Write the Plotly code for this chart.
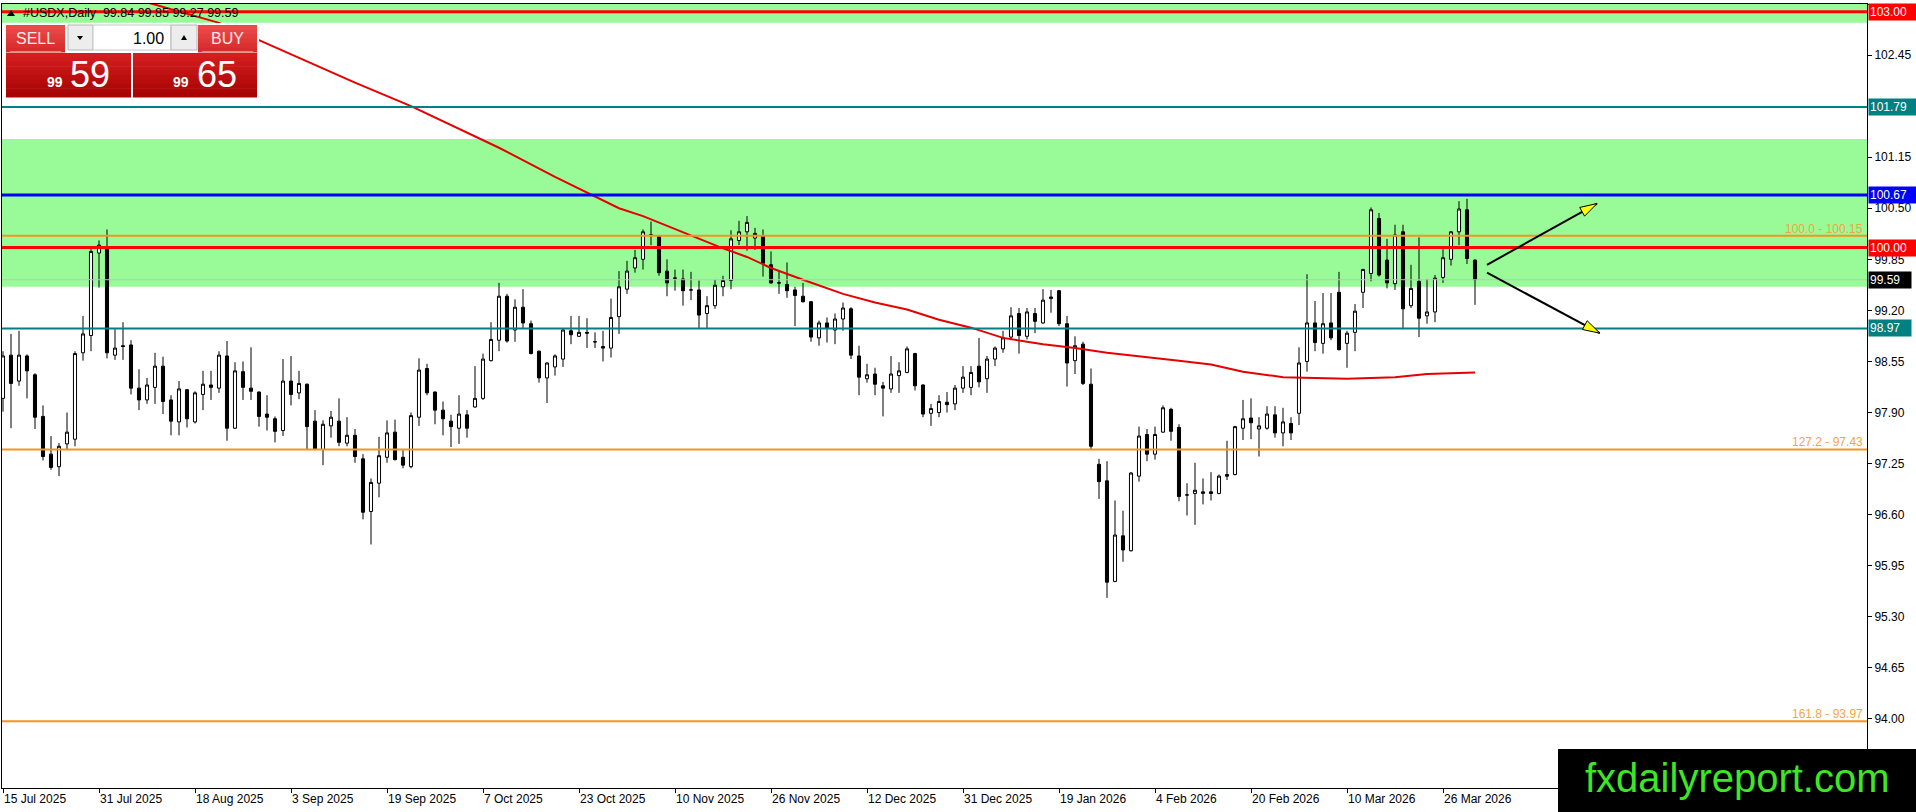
import plotly.graph_objects as go

# ---------------- data ----------------
date_labels = ["15 Jul 2025", "31 Jul 2025", "18 Aug 2025", "3 Sep 2025", "19 Sep 2025",
               "7 Oct 2025", "23 Oct 2025", "10 Nov 2025", "26 Nov 2025", "12 Dec 2025",
               "31 Dec 2025", "19 Jan 2026", "4 Feb 2026", "20 Feb 2026", "10 Mar 2026",
               "26 Mar 2026"]
bars_per_label = 12

price_ticks = [94.00, 94.65, 95.30, 95.95, 96.60, 97.25, 97.90, 98.55, 99.20, 99.85,
               100.50, 101.15, 102.45, 103.10]

opens = [98.08, 98.63, 98.30, 98.62, 98.38, 97.85, 97.37, 97.21, 97.50, 97.56,
         98.66, 98.88, 99.93, 100.00, 98.63, 98.75, 98.76, 98.21, 98.06, 98.22,
         98.49, 98.06, 97.78, 98.19, 97.78, 98.13, 98.25, 98.21, 98.62, 97.70,
         98.42, 98.21, 98.16, 97.88, 97.82, 97.67, 98.30, 98.15, 98.26, 97.79,
         97.43, 97.73, 97.79, 97.51, 97.61, 97.31, 96.64, 97.00, 97.33, 97.65,
         97.33, 97.21, 97.84, 98.46, 98.16, 97.93, 97.79, 97.70, 97.87, 97.97,
         98.08, 98.56, 98.82, 99.38, 98.95, 99.24, 99.03, 98.68, 98.34, 98.48,
         98.58, 98.94, 98.87, 98.92, 98.80, 98.74, 98.72, 99.12, 99.47, 99.74,
         99.85, 100.16, 100.14, 99.70, 99.61, 99.60, 99.46, 99.46, 99.16, 99.26,
         99.50, 99.58, 100.09, 100.20, 100.12, 100.15, 99.78, 99.55, 99.53, 99.46,
         99.38, 99.31, 98.85, 99.04, 98.95, 99.09, 99.22, 98.62, 98.33, 98.39,
         98.24, 98.20, 98.37, 98.41, 98.65, 98.25, 97.89, 97.90, 98.03, 98.01,
         98.21, 98.22, 98.49, 98.33, 98.58, 98.71, 98.86, 99.16, 98.87, 99.16,
         99.04, 99.35, 99.45, 99.03, 98.56, 98.77, 98.26, 97.24, 97.03, 95.75,
         96.33, 96.14, 97.09, 97.62, 97.37, 97.65, 97.94, 97.71, 96.85, 96.87,
         96.87, 96.89, 96.87, 97.11, 97.11, 97.70, 97.83, 97.69, 97.70, 97.87,
         97.64, 97.76, 97.89, 98.55, 99.04, 98.78, 99.04, 99.43, 98.78, 98.92,
         99.43, 99.67, 100.37, 99.84, 99.54, 100.20, 99.26, 99.57, 99.13, 99.18,
         99.62, 99.85, 100.20, 100.48, 99.84]

highs = [98.68, 98.90, 98.94, 98.64, 98.40, 97.99, 97.60, 97.51, 97.90, 98.68,
         99.13, 99.98, 100.09, 100.23, 98.96, 99.05, 98.82, 98.45, 98.34, 98.66,
         98.61, 98.12, 98.30, 98.20, 98.17, 98.43, 98.43, 98.68, 98.81, 98.54,
         98.55, 98.73, 98.17, 98.12, 97.85, 98.58, 98.62, 98.43, 98.27, 97.93,
         97.80, 97.92, 98.08, 97.84, 97.69, 97.37, 97.06, 97.59, 97.80, 97.81,
         97.42, 97.90, 98.59, 98.52, 98.17, 98.04, 97.87, 98.12, 97.93, 98.49,
         98.65, 99.05, 99.55, 99.41, 99.34, 99.47, 99.07, 98.69, 98.54, 98.64,
         98.97, 99.13, 99.13, 99.10, 98.92, 98.94, 99.35, 99.70, 99.83, 99.97,
         100.23, 100.33, 100.16, 99.85, 99.72, 99.72, 99.69, 99.58, 99.38, 99.59,
         99.64, 100.22, 100.34, 100.40, 100.25, 100.23, 99.95, 99.70, 99.81, 99.50,
         99.55, 99.32, 99.07, 99.11, 99.16, 99.30, 99.24, 98.75, 98.52, 98.47,
         98.29, 98.62, 98.54, 98.74, 98.66, 98.26, 98.01, 98.12, 98.16, 98.25,
         98.49, 98.49, 98.85, 98.62, 98.74, 98.94, 99.24, 99.23, 99.23, 99.23,
         99.47, 99.46, 99.46, 99.13, 98.87, 98.80, 98.46, 97.31, 97.28, 96.78,
         96.65, 97.14, 97.72, 97.69, 97.72, 97.99, 97.96, 97.75, 97.00, 97.26,
         97.06, 97.14, 97.11, 97.54, 97.73, 98.06, 98.08, 97.84, 97.98, 97.98,
         97.96, 97.84, 98.73, 99.66, 99.32, 99.42, 99.42, 99.69, 98.94, 99.28,
         99.73, 100.51, 100.44, 100.11, 100.29, 100.29, 99.78, 100.13, 99.60, 99.65,
         99.98, 100.21, 100.59, 100.62, 99.85]

lows = [97.91, 97.70, 98.24, 98.08, 97.69, 97.29, 97.17, 97.09, 97.42, 97.47,
        98.56, 98.68, 99.49, 98.59, 98.57, 98.57, 98.13, 97.93, 98.01, 98.01,
        97.88, 97.61, 97.61, 97.71, 97.76, 97.93, 98.06, 98.15, 97.54, 97.69,
        98.06, 98.06, 97.72, 97.67, 97.52, 97.60, 97.99, 98.07, 97.42, 97.42,
        97.23, 97.58, 97.47, 97.47, 97.26, 96.54, 96.22, 96.82, 97.26, 97.29,
        97.19, 97.19, 97.73, 98.12, 97.75, 97.61, 97.46, 97.50, 97.58, 97.96,
        98.06, 98.55, 98.68, 98.79, 98.80, 98.97, 98.64, 98.28, 98.02, 98.37,
        98.48, 98.77, 98.86, 98.72, 98.72, 98.55, 98.60, 98.90, 99.41, 99.68,
        99.72, 100.03, 99.64, 99.38, 99.45, 99.26, 99.33, 98.97, 98.97, 99.22,
        99.38, 99.47, 100.03, 99.96, 99.97, 99.63, 99.54, 99.41, 99.36, 99.00,
        99.30, 98.80, 98.75, 98.79, 98.77, 98.94, 98.58, 98.12, 98.28, 98.12,
        97.85, 98.15, 98.15, 98.40, 98.18, 97.84, 97.73, 97.84, 97.90, 97.93,
        98.15, 98.12, 98.22, 98.15, 98.49, 98.66, 98.82, 98.65, 98.83, 98.91,
        99.03, 99.17, 99.00, 98.23, 98.39, 98.25, 97.42, 96.80, 95.54, 95.74,
        96.00, 96.13, 97.02, 97.28, 97.30, 97.64, 97.54, 96.77, 96.59, 96.47,
        96.73, 96.78, 96.86, 97.04, 97.10, 97.55, 97.56, 97.34, 97.68, 97.58,
        97.47, 97.55, 97.74, 98.42, 98.68, 98.65, 98.82, 98.69, 98.47, 98.68,
        99.23, 99.57, 99.63, 99.48, 99.46, 98.96, 99.23, 98.86, 99.03, 99.05,
        99.55, 99.77, 100.03, 99.79, 99.27]

closes = [98.62, 98.27, 98.63, 98.43, 97.84, 97.34, 97.20, 97.47, 97.65, 98.65,
          98.90, 99.95, 100.03, 98.66, 98.72, 98.74, 98.21, 98.06, 98.25, 98.49,
          98.04, 97.79, 98.20, 97.82, 98.15, 98.26, 98.22, 98.63, 97.70, 98.43,
          98.22, 98.17, 97.85, 97.84, 97.66, 98.30, 98.13, 98.27, 97.72, 97.43,
          97.75, 97.84, 97.52, 97.61, 97.34, 96.63, 97.01, 97.35, 97.64, 97.30,
          97.23, 97.86, 98.44, 98.15, 97.93, 97.82, 97.72, 97.88, 97.70, 98.08,
          98.58, 98.83, 99.38, 98.81, 99.24, 99.04, 98.65, 98.34, 98.53, 98.62,
          98.95, 98.89, 98.92, 98.91, 98.80, 98.72, 99.11, 99.50, 99.70, 99.87,
          100.20, 100.16, 99.68, 99.55, 99.61, 99.45, 99.46, 99.14, 99.26, 99.52,
          99.58, 100.11, 100.20, 100.32, 100.18, 99.80, 99.55, 99.55, 99.45, 99.39,
          99.31, 98.86, 99.04, 98.97, 99.09, 99.23, 98.63, 98.35, 98.38, 98.26,
          98.21, 98.39, 98.43, 98.71, 98.24, 97.88, 97.95, 98.04, 98.00, 98.21,
          98.35, 98.41, 98.29, 98.58, 98.72, 98.85, 99.13, 98.88, 99.18, 99.06,
          99.33, 99.37, 99.03, 98.53, 98.75, 98.27, 97.47, 97.02, 95.74, 96.34,
          96.15, 97.13, 97.60, 97.37, 97.62, 97.96, 97.66, 96.83, 96.85, 96.91,
          96.89, 96.87, 97.09, 97.09, 97.72, 97.82, 97.77, 97.73, 97.88, 97.64,
          97.78, 97.64, 98.53, 99.04, 98.79, 99.03, 98.85, 98.70, 98.91, 99.19,
          99.72, 100.48, 99.65, 99.55, 100.16, 99.22, 99.48, 99.10, 99.18, 99.61,
          99.87, 100.20, 100.49, 99.86, 99.59]

# moving average (bar index -> value)
ma_bars = [17, 27, 32, 38, 44, 51, 59, 62, 69, 73, 77, 80, 85, 90, 93, 96, 100, 105,
           109, 113, 117, 121, 125, 130, 134, 138, 147, 151, 155, 160, 164, 168, 174,
           178, 184]
ma_values = [103.15, 102.86, 102.64, 102.37, 102.10, 101.80, 101.41, 101.27, 100.90,
             100.70, 100.50, 100.40, 100.19, 99.99, 99.88, 99.74, 99.59, 99.41, 99.30,
             99.21, 99.08, 98.98, 98.85, 98.77, 98.72, 98.66, 98.56, 98.51, 98.42,
             98.35, 98.34, 98.33, 98.35, 98.39, 98.41]

zone_low = [102.86, 99.50]
zone_high = [103.10, 101.38]

level_prices = [103.00, 101.79, 100.67, 100.00, 98.97]
level_colors = ["#ff0000", "#008080", "#0000ff", "#ff0000", "#008080"]
level_widths = [3, 2, 3, 3, 2]

fib_prices = [100.15, 97.43, 93.97]
fib_texts = ["100.0 - 100.15", "127.2 - 97.43", "161.8 - 93.97"]

bid_price = 99.59
ask_price = 99.65

arrow_x0 = [185.5, 185.5]
arrow_y0 = [99.78, 99.68]
arrow_x1 = [199.25, 199.6]
arrow_y1 = [100.56, 98.91]

# ---------------- geometry ----------------
W, H = 1916, 812
PL, PR, PT, PB = 2, 1867, 4, 788
XMIN, XMAX = -0.125, 233.0
YMIN, YMAX = 93.12, 103.10


def px(X):
    return (X - PL) / (PR - PL)


def py(Y):
    return (PB - Y) / (PB - PT)


def to_px(xv, yv):
    return (PL + (xv - XMIN) / (XMAX - XMIN) * (PR - PL),
            PT + (YMAX - yv) / (YMAX - YMIN) * (PB - PT))


def from_px(X, Y):
    return (XMIN + (X - PL) / (PR - PL) * (XMAX - XMIN),
            YMAX - (Y - PT) / (PB - PT) * (YMAX - YMIN))


bars = list(range(len(closes)))
FONT = "Liberation Sans, Arial, sans-serif"

fig = go.Figure()
fig.add_trace(go.Candlestick(
    x=bars, open=opens, high=highs, low=lows, close=closes,
    increasing=dict(line=dict(color="black", width=1), fillcolor="white"),
    decreasing=dict(line=dict(color="black", width=1), fillcolor="black"),
    whiskerwidth=0, hoverinfo="skip", showlegend=False))
fig.add_trace(go.Scatter(x=ma_bars, y=ma_values, mode="lines",
                         line=dict(color="#e60000", width=2),
                         hoverinfo="skip", showlegend=False))

shapes = []
annotations = []

# support / resistance zones
for lo, hi in zip(zone_low, zone_high):
    shapes.append(dict(type="rect", xref="paper", yref="y", x0=0, x1=1, y0=lo, y1=hi,
                       fillcolor="#98fb98", line=dict(width=0), layer="below"))

# bid line
shapes.append(dict(type="line", xref="paper", yref="y", x0=0, x1=1, y0=bid_price,
                   y1=bid_price, line=dict(color="#c0c0c0", width=1), layer="above"))

# fibonacci levels
for p, t in zip(fib_prices, fib_texts):
    shapes.append(dict(type="line", xref="paper", yref="y", x0=0, x1=1, y0=p, y1=p,
                       line=dict(color="#f7931e", width=2), layer="above"))
    annotations.append(dict(xref="paper", yref="y", x=1, y=p, xanchor="right",
                            yanchor="bottom", xshift=-2, yshift=-2, text=t, showarrow=False,
                            font=dict(family=FONT, size=12, color="#f4a540")))

# horizontal levels with price tags
for p, c, w in zip(level_prices, level_colors, level_widths):
    shapes.append(dict(type="line", xref="paper", yref="y", x0=0, x1=1, y0=p, y1=p,
                       line=dict(color=c, width=w), layer="above"))
for p, c in zip(level_prices + [bid_price], level_colors + ["#000000"]):
    txt = f"{p:.2f}"
    annotations.append(dict(xref="paper", yref="y", x=1, y=p, xanchor="left",
                            yanchor="middle", xshift=1, text=txt, showarrow=False,
                            bgcolor=c, borderpad=1, width=46 if len(txt) == 6 else 40,
                            align="left",
                            font=dict(family=FONT, size=12, color="white")))

# arrows (black shaft, yellow head)
for x0, y0, x1, y1 in zip(arrow_x0, arrow_y0, arrow_x1, arrow_y1):
    X0, Y0 = to_px(x0, y0)
    X1, Y1 = to_px(x1, y1)
    dx, dy = X1 - X0, Y1 - Y0
    L = (dx * dx + dy * dy) ** 0.5
    ux, uy = dx / L, dy / L
    nx, ny = -uy, ux
    bx, by = X1 - 17 * ux, Y1 - 17 * uy
    shapes.append(dict(type="line", xref="x", yref="y", x0=x0, y0=y0, x1=x1, y1=y1,
                       line=dict(color="black", width=2), layer="above"))
    pts = [(X1, Y1), (bx + 5 * nx, by + 5 * ny), (bx - 5 * nx, by - 5 * ny)]
    dpts = [from_px(a, b) for a, b in pts]
    path = "M " + " L ".join(f"{a},{b}" for a, b in dpts) + " Z"
    shapes.append(dict(type="path", xref="x", yref="y", path=path, fillcolor="#ffff00",
                       line=dict(color="black", width=1), layer="above"))


# ---------------- one-click trading panel ----------------
def prect(X0, Y0, X1, Y1, fill, line_color=None, lw=0):
    shapes.append(dict(type="rect", xref="paper", yref="paper", x0=px(X0), x1=px(X1),
                       y0=py(Y1), y1=py(Y0), fillcolor=fill,
                       line=dict(color=line_color or fill, width=lw), layer="above"))


def grad_rect(X0, Y0, X1, Y1, c_top, c_bot, n=8):
    h = (Y1 - Y0) / n
    for k in range(n):
        t = k / (n - 1)
        col = "rgb({},{},{})".format(*[int(a + (b - a) * t) for a, b in zip(c_top, c_bot)])
        prect(X0, Y0 + k * h, X1, Y0 + (k + 1) * h + 0.5, col)


def ptext(X, Y, text, size, color="white", xanchor="left", bold=False, family=FONT):
    annotations.append(dict(xref="paper", yref="paper", x=px(X), y=py(Y), xanchor=xanchor,
                            yanchor="middle", text=f"<b>{text}</b>" if bold else text,
                            showarrow=False, font=dict(family=family, size=size, color=color)))


def ptri(pts, color="black"):
    path = "M " + " L ".join(f"{px(a)},{py(b)}" for a, b in pts) + " Z"
    shapes.append(dict(type="path", xref="paper", yref="paper", path=path, fillcolor=color,
                       line=dict(color=color, width=0), layer="above"))


prect(2, 23, 259, 100, "white")
grad_rect(6, 25, 65, 52, (236, 74, 74), (214, 44, 44), 6)
grad_rect(198, 25, 257, 52, (236, 74, 74), (214, 44, 44), 6)
prect(10, 51, 61, 52, "#f08080")
prect(202, 51, 253, 52, "#f08080")
prect(68, 25, 93, 50, "#ededed", "#b4b4b4", 1)
prect(93, 25, 171, 50, "white", "#c8c8c8", 1)
prect(171, 25, 197, 50, "#ededed", "#b4b4b4", 1)
ptri([(77, 36), (83, 36), (80, 40)])
ptri([(181, 40), (187, 40), (184, 35)])
grad_rect(6, 53, 131, 97, (212, 30, 30), (168, 4, 4), 10)
grad_rect(133, 53, 257, 97, (212, 30, 30), (168, 4, 4), 10)
ptext(35.5, 38, "SELL", 16, color="#fde8e8", xanchor="center")
ptext(227.5, 38, "BUY", 16, color="#fde8e8", xanchor="center")
ptext(166, 38, "1.00", 16, color="black", xanchor="right")

bid_s = f"{bid_price:.2f}"
ask_s = f"{ask_price:.2f}"
ptext(45, 82, bid_s[:2], 14, bold=True)
ptext(68, 74, bid_s[3:], 36)
ptext(171, 82, ask_s[:2], 14, bold=True)
ptext(195, 74, ask_s[3:], 36)

# title line
ptri([(7, 16), (15, 16), (11, 10)])
title_txt = "#USDX,Daily\u00a0\u00a0{:.2f} {:.2f} {:.2f} {:.2f}".format(
    opens[-1], highs[-1], lows[-1], closes[-1])
ptext(21, 13, title_txt, 12.5, color="black")

# watermark
prect(1558, 749, 1917, 813, "black")
ptext(1737, 778, "fxdailyreport.com", 40, color="#3ee626", xanchor="center")

fig.update_layout(
    width=W, height=H, autosize=False,
    margin=dict(l=PL, r=W - PR, t=PT, b=H - PB, pad=0),
    paper_bgcolor="white", plot_bgcolor="white",
    font=dict(family=FONT, size=12, color="black"),
    shapes=shapes, annotations=annotations, showlegend=False,
    boxgap=0.45,
    xaxis=dict(range=[XMIN, XMAX],
               tickvals=[k * bars_per_label for k in range(len(date_labels))],
               ticktext=date_labels, ticks="outside", ticklen=4, tickcolor="black",
               showline=True, linecolor="black", linewidth=1, mirror=True,
               showgrid=False, zeroline=False, ticklabelposition="outside right",
               tickfont=dict(family=FONT, size=12, color="black"),
               rangeslider=dict(visible=False), fixedrange=True),
    yaxis=dict(range=[YMIN, YMAX], side="right", tickvals=price_ticks,
               ticktext=[f"{v:.2f}" for v in price_ticks], ticks="outside", ticklen=4,
               tickcolor="black", showline=True, linecolor="black", linewidth=1,
               mirror=True, showgrid=False, zeroline=False,
               tickfont=dict(family=FONT, size=12, color="black"), fixedrange=True),
)

fig.write_html("out.html", config={"displayModeBar": False},
               post_script="document.body.style.margin='0';document.body.style.overflow='hidden';")
